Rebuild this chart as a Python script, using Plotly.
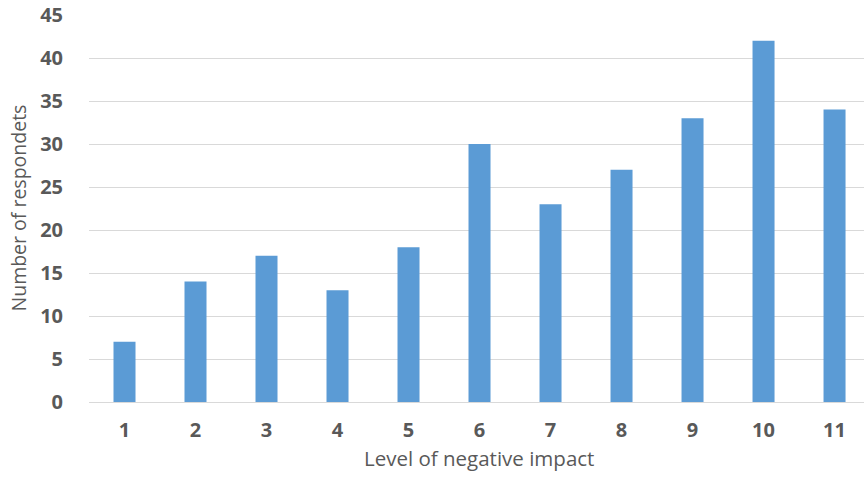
import plotly.graph_objects as go

levels = [1, 2, 3, 4, 5, 6, 7, 8, 9, 10, 11]
respondents = [7, 14, 17, 13, 18, 30, 23, 27, 33, 42, 34]
y_ticks = [0, 5, 10, 15, 20, 25, 30, 35, 40, 45]

GREY = "#595959"
fig = go.Figure(go.Bar(
    x=levels, y=respondents, width=0.31,
    marker=dict(color="#5B9BD5", line=dict(width=0)),
))

fig.update_layout(
    width=864, height=478,
    margin=dict(l=89, r=0, t=15, b=76),
    paper_bgcolor="white", plot_bgcolor="white",
    showlegend=False,
    font=dict(family="Open Sans", color=GREY),
    annotations=[
        dict(text="Level of negative impact", xref="paper", yref="paper",
             x=0.5026, y=-0.145, xanchor="center", yanchor="middle",
             showarrow=False, font=dict(size=20.5, color=GREY, family="Open Sans")),
        dict(text="Number of respondets", xref="paper", yref="paper",
             x=-0.0916, y=0.5, xanchor="center", yanchor="middle", textangle=-90,
             showarrow=False, font=dict(size=19.5, color=GREY, family="Open Sans")),
    ],
)
fig.update_xaxes(
    range=[0.5, 11.415], tickvals=levels, ticktext=[str(v) for v in levels],
    tickfont=dict(size=20, family="Open Sans", weight="bold", color=GREY),
    showgrid=False, zeroline=False, showline=False, automargin=False,
    ticks="outside", ticklen=10, tickcolor="rgba(0,0,0,0)",
    ticklabeloverflow="allow",
)
fig.update_yaxes(
    range=[0, 45], tickvals=y_ticks,
    tickfont=dict(size=20, family="Open Sans", weight="bold", color=GREY),
    showgrid=True, gridcolor="#D9D9D9", gridwidth=1,
    zeroline=True, zerolinecolor="#D9D9D9", zerolinewidth=1, automargin=False,
    ticks="outside", ticklen=21, tickcolor="rgba(0,0,0,0)",
    ticklabeloverflow="allow",
)

fig.write_html("out.html", config={"displayModeBar": False},
               post_script="document.body.style.margin='0';")
